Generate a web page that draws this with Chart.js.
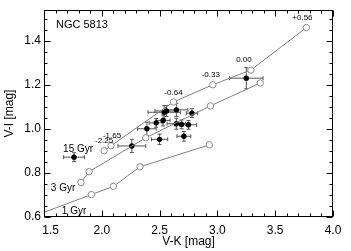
<!DOCTYPE html>
<html>
<head>
<meta charset="utf-8">
<script src="https://cdn.jsdelivr.net/npm/chart.js@4"></script>
<style>
  html, body { margin: 0; padding: 0; background: #fff; }
</style>
</head>
<body>
<canvas id="chart" width="351" height="251"></canvas>
<script>
// model tracks, V-K vs V-I
const gyr1X = [1.50, 1.91, 2.10, 2.33, 2.93];
const gyr1Y = [0.621, 0.702, 0.739, 0.828, 0.928];
const gyr3X = [1.82, 1.89, 2.38, 2.94, 3.37];
const gyr3Y = [0.757, 0.806, 0.960, 1.105, 1.209];
const gyr15X = [2.02, 2.08, 2.62, 2.96, 3.29, 3.77];
const gyr15Y = [0.901, 0.924, 1.123, 1.201, 1.268, 1.461];
const metalLabels = ["-2.25", "-1.65", "-0.64", "-0.33", "0.00", "+0.56"];

// NGC 5813 measurements
const obsX = [1.76, 2.26, 2.39, 2.50, 2.71, 2.47, 2.53, 2.645, 2.69, 2.75, 2.54, 2.56, 2.645, 2.78, 3.25];
const obsY = [0.872, 0.923, 1.001, 0.953, 0.967, 1.028, 1.039, 1.024, 1.021, 1.019, 1.076, 1.082, 1.087, 1.072, 1.231];
const obsXErr = [0.09, 0.12, 0.08, 0.07, 0.06, 0.06, 0.06, 0.08, 0.06, 0.07, 0.14, 0.10, 0.10, 0.05, 0.145];
const obsYErr = [0.02, 0.03, 0.03, 0.024, 0.022, 0.02, 0.025, 0.025, 0.02, 0.02, 0.03, 0.025, 0.03, 0.02, 0.048];

const xTicks = [1.5, 2.0, 2.5, 3.0, 3.5, 4.0];
const yTicks = [0.6, 0.8, 1.0, 1.2, 1.4];

const FONT = "'Liberation Sans', Arial, sans-serif";

function pts(xs, ys) {
  return xs.map((x, i) => ({ x: x, y: ys[i] }));
}

function modelSet(xs, ys, first) {
  return {
    data: pts(xs, ys),
    showLine: true,
    borderColor: "#808080",
    borderWidth: 1,
    backgroundColor: "rgba(0,0,0,0)",
    pointBackgroundColor: "#fff",
    pointBorderColor: "#8c8c8c",
    pointBorderWidth: 1,
    pointRadius: xs.map((_, i) => (i === 0 && first === false ? 0 : 3.2)),
  };
}

// error bars under the filled points
const errorBars = {
  id: "errorBars",
  beforeDatasetsDraw(chart) {
    const { ctx, scales: { x, y } } = chart;
    ctx.save();
    ctx.strokeStyle = "#555";
    ctx.lineWidth = 1;
    obsX.forEach((vx, i) => {
      const px = x.getPixelForValue(vx);
      const py = y.getPixelForValue(obsY[i]);
      const x0 = x.getPixelForValue(vx - obsXErr[i]);
      const x1 = x.getPixelForValue(vx + obsXErr[i]);
      const y0 = y.getPixelForValue(obsY[i] - obsYErr[i]);
      const y1 = y.getPixelForValue(obsY[i] + obsYErr[i]);
      ctx.beginPath();
      ctx.moveTo(x0, py); ctx.lineTo(x1, py);
      ctx.moveTo(x0, py - 2); ctx.lineTo(x0, py + 2);
      ctx.moveTo(x1, py - 2); ctx.lineTo(x1, py + 2);
      ctx.moveTo(px, y0); ctx.lineTo(px, y1);
      ctx.moveTo(px - 2, y0); ctx.lineTo(px + 2, y0);
      ctx.moveTo(px - 2, y1); ctx.lineTo(px + 2, y1);
      ctx.stroke();
    });
    ctx.restore();
  },
};

// box with inward ticks on all four sides, plus text labels
const frame = {
  id: "frame",
  afterDatasetsDraw(chart) {
    const { ctx, chartArea: a, scales: { x, y } } = chart;
    ctx.save();
    ctx.strokeStyle = "#000";
    ctx.lineWidth = 1;
    const L = Math.round(a.left) + 0.5, R = Math.round(a.right) - 0.5;
    const T = Math.round(a.top) + 0.5, B = Math.round(a.bottom) - 0.5;
    ctx.strokeRect(L, T, R - L, B - T);
    ctx.beginPath();
    for (let k = 15; k <= 40; k++) {
      const px = Math.round(x.getPixelForValue(k / 10)) + 0.5;
      const len = k % 5 === 0 ? 6 : 3;
      ctx.moveTo(px, B); ctx.lineTo(px, B - len);
      ctx.moveTo(px, T); ctx.lineTo(px, T + len);
    }
    for (let k = 12; k <= 30; k++) {
      const py = Math.round(y.getPixelForValue(k / 20)) + 0.5;
      const len = k % 4 === 0 ? 6 : 3;
      ctx.moveTo(L, py); ctx.lineTo(L + len, py);
      ctx.moveTo(R, py); ctx.lineTo(R - len, py);
    }
    ctx.stroke();

    // metallicity labels over the 15 Gyr track
    const meta = chart.getDatasetMeta(2);
    const dx = [0, 1, 0, -2, -7, -4];
    const dy = [-10, -10, -9, -10, -10, -10];
    ctx.fillStyle = "#000";
    ctx.textAlign = "center";
    ctx.textBaseline = "middle";
    ctx.font = "8px " + FONT;
    meta.data.forEach((el, i) => {
      ctx.fillText(metalLabels[i], el.x + dx[i], el.y + dy[i]);
    });

    ctx.font = "10px " + FONT;
    ctx.fillText("15 Gyr", x.getPixelForValue(1.795), y.getPixelForValue(0.907));
    ctx.fillText("3 Gyr", x.getPixelForValue(1.665), y.getPixelForValue(0.729));
    ctx.fillText("1 Gyr", x.getPixelForValue(1.76), y.getPixelForValue(0.627));

    ctx.textAlign = "left";
    ctx.font = "11px " + FONT;
    ctx.fillText("NGC 5813", a.left + 12, a.top + 15);
    ctx.restore();
  },
};

new Chart(document.getElementById("chart"), {
  type: "scatter",
  data: {
    datasets: [
      modelSet(gyr1X, gyr1Y, false),
      modelSet(gyr3X, gyr3Y, true),
      modelSet(gyr15X, gyr15Y, true),
      {
        data: pts(obsX, obsY),
        pointRadius: 2.7,
        pointBackgroundColor: "#000",
        pointBorderColor: "#000",
        pointBorderWidth: 0,
      },
    ],
  },
  plugins: [errorBars, frame],
  options: {
    responsive: false,
    animation: false,
    events: [],
    layout: { padding: { top: 5, right: 18, left: 0, bottom: 0 } },
    plugins: { legend: { display: false }, tooltip: { enabled: false } },
    scales: {
      x: {
        type: "linear",
        min: 1.5,
        max: 4.0,
        afterBuildTicks: (s) => { s.ticks = xTicks.map((v) => ({ value: v })); },
        afterFit: (s) => { s.height = 34; },
        grid: { display: false, drawTicks: false },
        border: { display: false },
        ticks: {
          padding: 6,
          color: "#000",
          font: { family: FONT, size: 12 },
          callback: (v) => (v === 1.5 ? "    1.5" : v.toFixed(1)),
        },
        title: {
          display: true,
          text: "V-K [mag]",
          color: "#000",
          font: { family: FONT, size: 12 },
          padding: { top: 0, bottom: 2 },
        },
      },
      y: {
        type: "linear",
        min: 0.6,
        max: 1.54,
        afterBuildTicks: (s) => { s.ticks = yTicks.map((v) => ({ value: v })); },
        afterFit: (s) => { s.width = 44; },
        grid: { display: false, drawTicks: false },
        border: { display: false },
        ticks: {
          padding: 3,
          color: "#000",
          font: { family: FONT, size: 12 },
          callback: (v) => v.toFixed(1),
        },
        title: {
          display: true,
          text: "V-I [mag]",
          color: "#000",
          font: { family: FONT, size: 12 },
          padding: { top: 2, bottom: 0 },
        },
      },
    },
  },
});
</script>
</body>
</html>
